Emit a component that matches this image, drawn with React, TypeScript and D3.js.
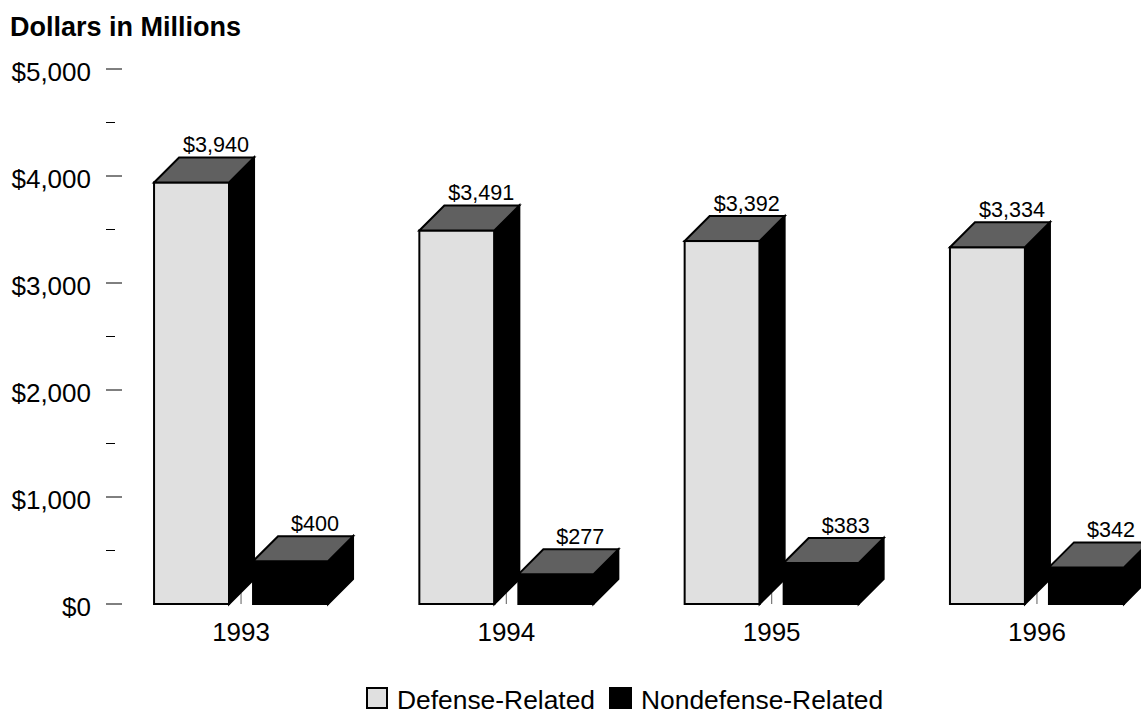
import React from 'react';
import * as d3 from 'd3';

const years = ['1993', '1994', '1995', '1996'];
const defense = [3940, 3491, 3392, 3334];
const nondefense = [400, 277, 383, 342];
const majorTicks = [0, 1000, 2000, 3000, 4000, 5000];
const minorTicks = [500, 1500, 2500, 3500, 4500];

const FONT = '"Liberation Sans", Arial, sans-serif';
const DEPTH = 25;

const y = d3.scaleLinear().domain([0, 5000]).range([604, 69]);
const x = d3.scaleBand<string>().domain(years).range([108.4, 1169.6]);
const inner = d3.scaleOrdinal<string, number>().domain(['d', 'n']).range([-87, 12]);
const barWidth = 75;
const money = (v: number) => '$' + d3.format(',')(v);

function Bar3D({ x0, value, fill, label }: { x0: number; value: number; fill: string; label: string }) {
  const top = y(value);
  const base = y(0);
  const x1 = x0 + barWidth;
  const pts = (p: number[][]) => p.map(q => q.join(',')).join(' ');
  return (
    <g stroke="#000" strokeWidth={2} strokeLinejoin="miter">
      <rect x={x0} y={top} width={barWidth} height={base - top} fill={fill} />
      <polygon
        points={pts([[x1, top], [x1 + DEPTH, top - DEPTH], [x1 + DEPTH, base - DEPTH], [x1, base]])}
        fill="#000"
      />
      <polygon
        points={pts([[x0, top], [x0 + DEPTH, top - DEPTH], [x1 + DEPTH, top - DEPTH], [x1, top]])}
        fill="#606060"
      />
      <text
        x={x0 + 62}
        y={top - DEPTH - 5.5}
        textAnchor="middle"
        fontSize={21.6}
        fontFamily={FONT}
        fill="#000"
        stroke="none"
      >
        {label}
      </text>
    </g>
  );
}

export default function App() {
  return (
    <svg
      width={1141}
      height={711}
      style={{ position: 'absolute', left: 0, top: 0, background: '#fff' }}
    >
      <text x={10} y={36} fontFamily={FONT} fontWeight="bold" fontSize={27} fill="#000">
        Dollars in Millions
      </text>

      {majorTicks.map(t => (
        <g key={t}>
          <line x1={106} x2={122} y1={y(t)} y2={y(t)} stroke="#000" strokeWidth={1} />
          <text x={91} y={y(t) + 12} textAnchor="end" fontFamily={FONT} fontSize={26} fill="#000">
            {money(t)}
          </text>
        </g>
      ))}
      {minorTicks.map(t => (
        <line key={t} x1={106} x2={115} y1={y(t)} y2={y(t)} stroke="#000" strokeWidth={1} />
      ))}

      {years.map((yr, i) => {
        const cx = (x(yr) as number) + x.bandwidth() / 2;
        return (
          <g key={yr}>
            <line x1={cx} x2={cx} y1={y(0)} y2={y(0) - 11} stroke="#777" strokeWidth={1.2} />
            <Bar3D x0={cx + inner('d')} value={defense[i]} fill="#e0e0e0" label={money(defense[i])} />
            <Bar3D x0={cx + inner('n')} value={nondefense[i]} fill="#000" label={money(nondefense[i])} />
            <text x={cx} y={641} textAnchor="middle" fontFamily={FONT} fontSize={26} fill="#000">
              {yr}
            </text>
          </g>
        );
      })}

      <rect x={367} y={688} width={20} height={20} fill="#e0e0e0" stroke="#000" strokeWidth={2} />
      <text x={397} y={709} fontFamily={FONT} fontSize={26.4} fill="#000">
        Defense-Related
      </text>
      <rect x={610} y={688} width={21} height={20} fill="#000" stroke="#000" strokeWidth={2} />
      <text x={641} y={709} fontFamily={FONT} fontSize={26.4} fill="#000">
        Nondefense-Related
      </text>
    </svg>
  );
}
